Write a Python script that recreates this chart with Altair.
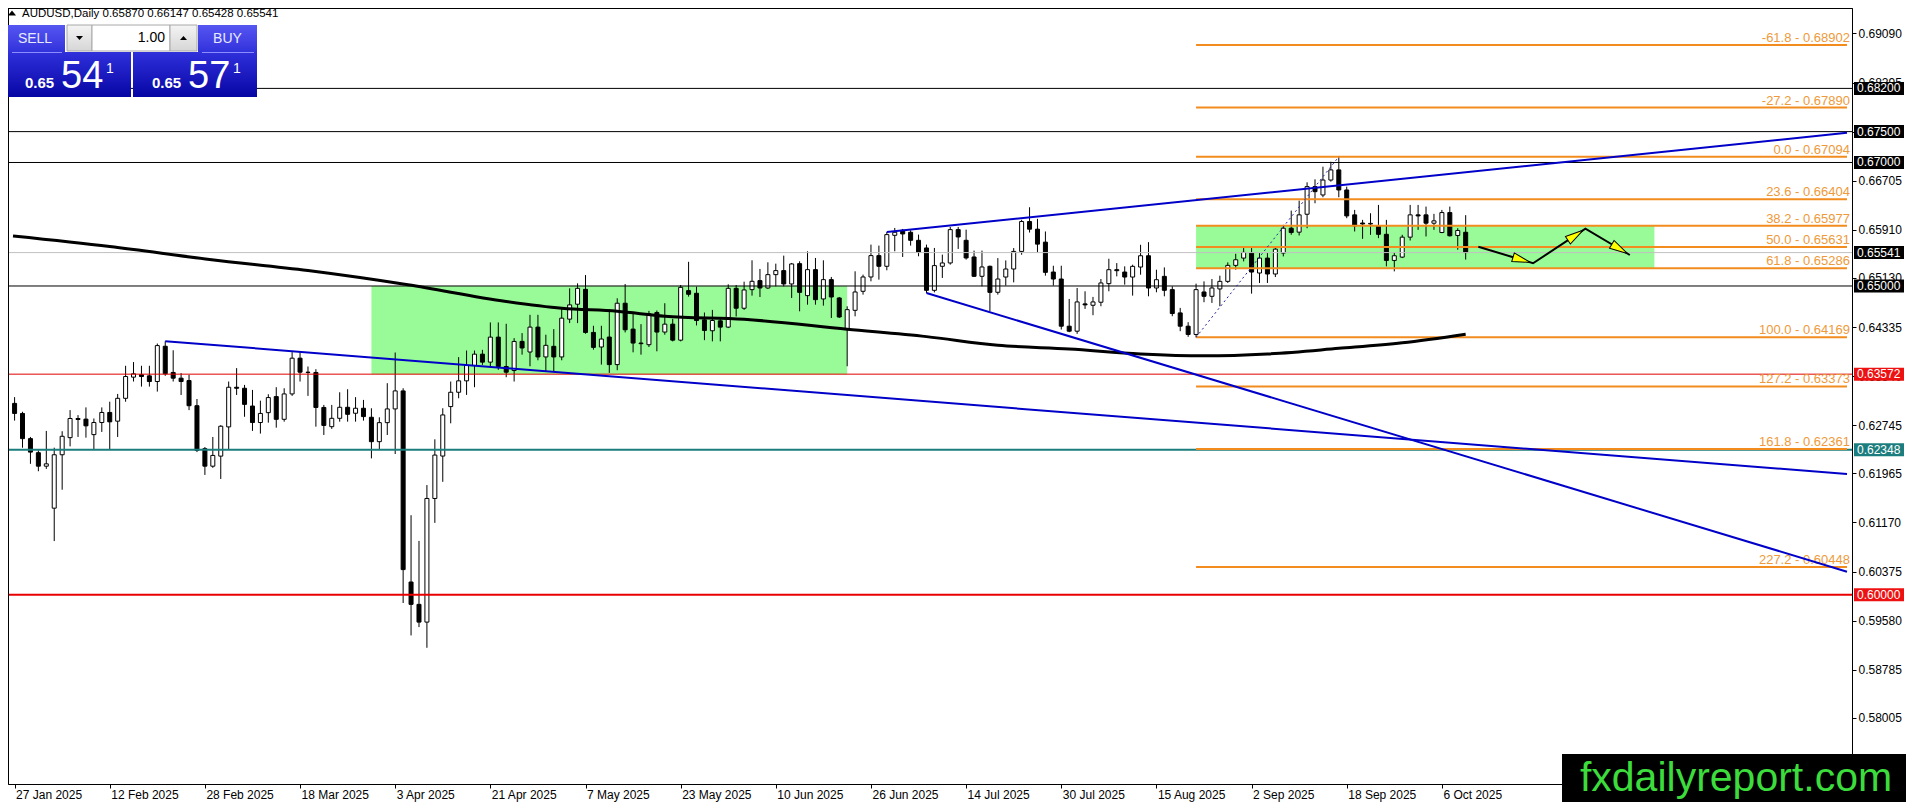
import math
import altair as alt
import pandas as pd

# ------------------------------------------------------------------ data
symbol = "AUDUSD"
timeframe = "Daily"

opens = [
    0.63099, 0.62936, 0.62528, 0.62300, 0.62082, 0.61402, 0.62267, 0.62544, 0.62854, 0.62844,
    0.62593, 0.62789, 0.62952, 0.62811, 0.63181, 0.63524, 0.63562, 0.63545, 0.63453, 0.64024,
    0.63600, 0.63507, 0.63469, 0.63061, 0.62365, 0.62082, 0.62245, 0.62718, 0.63360, 0.63344,
    0.63056, 0.62789, 0.62949, 0.63209, 0.62841, 0.63252, 0.63831, 0.63604, 0.63600, 0.63033,
    0.62722, 0.62857, 0.63036, 0.62939, 0.63020, 0.62874, 0.62479, 0.62787, 0.63009, 0.63301,
    0.60206, 0.59844, 0.59557, 0.61559, 0.62246, 0.63047, 0.63279, 0.63464, 0.63713, 0.63896,
    0.63767, 0.64172, 0.63696, 0.63631, 0.64103, 0.63931, 0.64334, 0.63851, 0.64023, 0.63851,
    0.64463, 0.64705, 0.64946, 0.64248, 0.64012, 0.64173, 0.63727, 0.64721, 0.64302, 0.64076,
    0.64049, 0.64570, 0.64254, 0.64382, 0.64123, 0.64925, 0.64882, 0.64452, 0.64275, 0.64436,
    0.64334, 0.64962, 0.64640, 0.64941, 0.65087, 0.64968, 0.65184, 0.65249, 0.65033, 0.65362,
    0.64844, 0.65265, 0.64790, 0.65103, 0.64806, 0.64304, 0.64606, 0.64914, 0.65146, 0.65492,
    0.65319, 0.65821, 0.65902, 0.65870, 0.65740, 0.65616, 0.64930, 0.65319, 0.65373, 0.65913,
    0.65740, 0.65470, 0.65157, 0.65319, 0.64898, 0.65145, 0.65275, 0.65560, 0.66044, 0.65920,
    0.65710, 0.65226, 0.65113, 0.64349, 0.64268, 0.64710, 0.64688, 0.64737, 0.65038, 0.65264,
    0.65226, 0.65145, 0.65307, 0.65490, 0.64968, 0.65156, 0.64941, 0.64564, 0.64349, 0.64215,
    0.64903, 0.64833, 0.64952, 0.65075, 0.65334, 0.65452, 0.65533, 0.65210, 0.65452, 0.65194,
    0.65533, 0.65936, 0.65872, 0.66162, 0.66609, 0.66474, 0.66716, 0.66880, 0.66555, 0.66152,
    0.66020, 0.66004, 0.65974, 0.65837, 0.65414, 0.65468, 0.65791, 0.66152, 0.66152, 0.66017,
    0.65866, 0.66189, 0.65818, 0.65870,
]
highs = [
    0.63200, 0.62963, 0.62555, 0.62338, 0.62653, 0.62381, 0.62648, 0.62990, 0.62909, 0.63034,
    0.62854, 0.63034, 0.63126, 0.63252, 0.63708, 0.63768, 0.63708, 0.63708, 0.64068, 0.64106,
    0.63959, 0.63589, 0.63562, 0.63170, 0.62392, 0.62555, 0.62746, 0.63453, 0.63670, 0.63398,
    0.63317, 0.63143, 0.63247, 0.63361, 0.63344, 0.63929, 0.63929, 0.63696, 0.63653, 0.63074,
    0.63074, 0.63279, 0.63328, 0.63200, 0.63155, 0.63020, 0.62874, 0.63426, 0.63923, 0.63344,
    0.61288, 0.60872, 0.61776, 0.62517, 0.63020, 0.63453, 0.63848, 0.63955, 0.63955, 0.63966,
    0.64410, 0.64410, 0.64388, 0.64156, 0.64237, 0.64533, 0.64533, 0.64211, 0.64302, 0.64640,
    0.64962, 0.65043, 0.65177, 0.64356, 0.64356, 0.64625, 0.64801, 0.65032, 0.64570, 0.64382,
    0.64597, 0.64603, 0.64721, 0.64468, 0.65016, 0.65392, 0.64989, 0.64570, 0.64613, 0.64490,
    0.65027, 0.65016, 0.65070, 0.65416, 0.65276, 0.65384, 0.65362, 0.65492, 0.65373, 0.65400,
    0.65562, 0.65454, 0.65416, 0.65146, 0.64822, 0.64671, 0.65238, 0.65184, 0.65670, 0.65654,
    0.65875, 0.65940, 0.65924, 0.65902, 0.65832, 0.65670, 0.65616, 0.65508, 0.65956, 0.65956,
    0.65913, 0.65573, 0.65573, 0.65330, 0.65452, 0.65414, 0.65614, 0.66071, 0.66275, 0.66087,
    0.65883, 0.65328, 0.65328, 0.64790, 0.64968, 0.64914, 0.64823, 0.65113, 0.65441, 0.65371,
    0.65318, 0.65345, 0.65667, 0.65710, 0.65264, 0.65301, 0.64995, 0.64645, 0.64414, 0.65038,
    0.65075, 0.65113, 0.65167, 0.65382, 0.65522, 0.65614, 0.65614, 0.65533, 0.65533, 0.65614,
    0.65990, 0.66221, 0.66383, 0.66679, 0.66727, 0.66932, 0.67012, 0.67094, 0.66609, 0.66232,
    0.66071, 0.66178, 0.66313, 0.66071, 0.65544, 0.65829, 0.66313, 0.66313, 0.66286, 0.66168,
    0.66232, 0.66286, 0.65936, 0.66147,
]
lows = [
    0.62820, 0.62381, 0.62120, 0.62000, 0.62038, 0.60869, 0.61701, 0.62403, 0.62555, 0.62544,
    0.62354, 0.62637, 0.62354, 0.62555, 0.63126, 0.63453, 0.63371, 0.63371, 0.63290, 0.63545,
    0.63453, 0.63235, 0.62990, 0.62310, 0.61940, 0.62055, 0.61875, 0.62348, 0.63235, 0.62882,
    0.62653, 0.62610, 0.62787, 0.62706, 0.62803, 0.63220, 0.63453, 0.63220, 0.62722, 0.62587,
    0.62686, 0.62803, 0.62803, 0.62803, 0.62820, 0.62208, 0.62344, 0.62587, 0.62279, 0.59866,
    0.59341, 0.59476, 0.59141, 0.61164, 0.61829, 0.62776, 0.63182, 0.63236, 0.63361, 0.63723,
    0.63696, 0.63642, 0.63523, 0.63453, 0.63888, 0.63700, 0.63797, 0.63620, 0.63620, 0.63797,
    0.64399, 0.64399, 0.64227, 0.63969, 0.63727, 0.63593, 0.63636, 0.64248, 0.63926, 0.63888,
    0.64012, 0.63942, 0.64211, 0.64103, 0.64103, 0.64828, 0.64361, 0.64123, 0.64103, 0.64103,
    0.64318, 0.64506, 0.64613, 0.64844, 0.64822, 0.64952, 0.64995, 0.64995, 0.64806, 0.64590,
    0.64698, 0.64698, 0.64682, 0.64482, 0.64482, 0.63700, 0.64509, 0.64860, 0.65076, 0.65103,
    0.65254, 0.65562, 0.65470, 0.65654, 0.65481, 0.64887, 0.64897, 0.65130, 0.65346, 0.65600,
    0.65427, 0.65146, 0.64995, 0.64590, 0.64860, 0.65006, 0.65059, 0.65506, 0.65866, 0.65544,
    0.65167, 0.65006, 0.64295, 0.64252, 0.64225, 0.64629, 0.64527, 0.64672, 0.64914, 0.65156,
    0.65022, 0.64844, 0.65183, 0.64833, 0.64898, 0.64833, 0.64511, 0.64268, 0.64177, 0.64169,
    0.64737, 0.64726, 0.64672, 0.65049, 0.65264, 0.65398, 0.64876, 0.65049, 0.65049, 0.65145,
    0.65479, 0.65829, 0.65818, 0.65936, 0.66340, 0.66437, 0.66690, 0.66437, 0.66098, 0.65883,
    0.65764, 0.65829, 0.65775, 0.65318, 0.65237, 0.65452, 0.65737, 0.65909, 0.65802, 0.65909,
    0.65856, 0.65802, 0.65587, 0.65428,
]
closes = [
    0.62936, 0.62528, 0.62310, 0.62082, 0.62120, 0.62267, 0.62566, 0.62854, 0.62838, 0.62735,
    0.62789, 0.62952, 0.62800, 0.63181, 0.63534, 0.63578, 0.63534, 0.63453, 0.64035, 0.63578,
    0.63507, 0.63453, 0.63061, 0.62338, 0.62082, 0.62256, 0.62729, 0.63360, 0.63344, 0.63083,
    0.62789, 0.62936, 0.63193, 0.62841, 0.63252, 0.63831, 0.63604, 0.63600, 0.63033, 0.62742,
    0.62857, 0.63036, 0.62922, 0.63020, 0.62885, 0.62479, 0.62787, 0.63009, 0.63301, 0.60407,
    0.59844, 0.59557, 0.61559, 0.62262, 0.62912, 0.63279, 0.63464, 0.63713, 0.63896, 0.63767,
    0.64172, 0.63696, 0.63604, 0.64102, 0.63996, 0.64334, 0.63851, 0.64039, 0.63851, 0.64479,
    0.64694, 0.64962, 0.64248, 0.64006, 0.64141, 0.63727, 0.64721, 0.64291, 0.64076, 0.64066,
    0.64549, 0.64254, 0.64382, 0.64123, 0.64978, 0.64866, 0.64441, 0.64280, 0.64441, 0.64334,
    0.64962, 0.64640, 0.64936, 0.65076, 0.64968, 0.65184, 0.65249, 0.65033, 0.65357, 0.64897,
    0.65265, 0.64779, 0.65103, 0.64822, 0.64498, 0.64617, 0.64903, 0.65146, 0.65492, 0.65319,
    0.65832, 0.65870, 0.65843, 0.65740, 0.65546, 0.64930, 0.65330, 0.65373, 0.65913, 0.65794,
    0.65454, 0.65157, 0.65308, 0.64897, 0.65113, 0.65275, 0.65560, 0.66044, 0.65920, 0.65678,
    0.65221, 0.65113, 0.64349, 0.64268, 0.64742, 0.64694, 0.64742, 0.65049, 0.65264, 0.65248,
    0.65145, 0.65318, 0.65490, 0.64968, 0.65102, 0.64930, 0.64554, 0.64349, 0.64215, 0.64941,
    0.64833, 0.64968, 0.65075, 0.65334, 0.65425, 0.65544, 0.65226, 0.65452, 0.65194, 0.65597,
    0.65936, 0.65866, 0.66152, 0.66609, 0.66528, 0.66716, 0.66880, 0.66555, 0.66135, 0.65974,
    0.66004, 0.66014, 0.65837, 0.65414, 0.65490, 0.65791, 0.66152, 0.66135, 0.66017, 0.66055,
    0.66189, 0.65813, 0.65899, 0.65541,
]

date_tick_bars = [0, 12, 24, 36, 48, 60, 72, 84, 96, 108, 120, 132, 144, 156, 168, 180]
date_labels = ["27 Jan 2025", "12 Feb 2025", "28 Feb 2025", "18 Mar 2025", "3 Apr 2025",
               "21 Apr 2025", "7 May 2025", "23 May 2025", "10 Jun 2025", "26 Jun 2025",
               "14 Jul 2025", "30 Jul 2025", "15 Aug 2025", "2 Sep 2025", "18 Sep 2025",
               "6 Oct 2025"]
price_ticks = [0.69090, 0.68295, 0.67500, 0.66705, 0.65910, 0.65130, 0.64335, 0.63540,
               0.62745, 0.61965, 0.61170, 0.60375, 0.59580, 0.58785, 0.58005]

# 200-day moving average
ma_bars = [-0.2, 12, 24.6, 37, 49.6, 62, 69, 76, 82, 92, 105, 115, 124, 133, 142, 150, 158, 167, 175, 183]
ma_values = [0.6581, 0.6564, 0.6543, 0.6525, 0.6502, 0.6475, 0.6464, 0.6459, 0.6451, 0.6446,
             0.6430, 0.6418, 0.6404, 0.6398, 0.6390, 0.6387, 0.6390, 0.6399, 0.6408, 0.6422]

# horizontal levels
level_prices = [0.68200, 0.67500, 0.67000, 0.65000, 0.63572, 0.62348, 0.60000]
level_colors = ["#000000", "#000000", "#000000", "#000000", "#e00000", "#1b7d7d", "#e80000"]
level_widths = [1, 1, 1, 1, 1, 2, 2]
bid = 0.65541
ask = 0.65571
lot = 1.00

# Fibonacci
fib_ratios = [-61.8, -27.2, 0.0, 23.6, 38.2, 50.0, 61.8, 100.0, 127.2, 161.8, 227.2]
fib_prices = [0.68902, 0.67890, 0.67094, 0.66404, 0.65977, 0.65631, 0.65286, 0.64169,
              0.63373, 0.62361, 0.60448]
fib_start_bar = 149
fib_base_bars = [149, 167]
fib_base_prices = [0.64169, 0.67094]

# green zones
zone_start = [45, 149]
zone_end = [105, 206.8]
zone_low = [0.63572, 0.65286]
zone_high = [0.65000, 0.65977]

# trend lines (start point, point at right edge)
trend_start_bar = [19, 115, 110]
trend_start_price = [0.64106, 0.64887, 0.65875]
trend_end_bar = [231.09, 231.09, 231.09]
trend_end_price = [0.61955, 0.60373, 0.67480]

# projected path
path_bars = [184.6, 191.5, 198.1, 203.7]
path_prices = [0.65636, 0.65368, 0.65928, 0.65502]

brand = "fxdailyreport.com"

# ------------------------------------------------------------------ layout
W, H = 1844, 776
PAD_R, PAD_B = 54, 18
X_DOM = [-0.2, 231.09]
Y_DOM = [0.56935, 0.69502]
PX_BAR = W / (X_DOM[1] - X_DOM[0])
PX_PRICE = H / (Y_DOM[1] - Y_DOM[0])
FONT = "Liberation Sans"

xscale = alt.Scale(domain=X_DOM, nice=False, zero=False)
yscale = alt.Scale(domain=Y_DOM, nice=False, zero=False)
label_expr = "[" + ",".join("'%s'" % d for d in date_labels) + "][round(datum.value / 12)]"
xaxis = alt.Axis(values=date_tick_bars, labelExpr=label_expr, title=None, grid=False,
                 labelAlign="left", labelBaseline="top", labelPadding=1, labelOffset=1,
                 tickSize=4, tickColor="black", domainColor="black", labelFont=FONT,
                 labelFontSize=12, labelColor="black", labelFlush=False, labelOverlap=False)
yaxis = alt.Axis(orient="right", values=price_ticks, format=".5f", title=None, grid=False,
                 tickSize=4, labelPadding=2, labelFont=FONT, labelFontSize=12,
                 labelColor="black", labelFlush=False, labelOverlap=False,
                 domainColor="black", tickColor="black")


def X(f):
    return alt.X(f"{f}:Q", scale=xscale, axis=xaxis)


def Y(f):
    return alt.Y(f"{f}:Q", scale=yscale, axis=yaxis)


one = pd.DataFrame({"k": [0]})
layers = []

# zones
zdf = pd.DataFrame({"x1": zone_start, "x2": zone_end, "lo": zone_low, "hi": zone_high})
layers.append(alt.Chart(zdf).mark_rect(color="#98fb98", clip=True).encode(
    x=X("x1"), x2="x2:Q", y=Y("lo"), y2="hi:Q"))

# candles
cdf = pd.DataFrame({"bar": list(range(len(opens))), "o": opens, "h": highs, "l": lows, "c": closes})
cdf["fill"] = ["white" if c >= o else "black" for o, c in zip(opens, closes)]
layers.append(alt.Chart(cdf).mark_rule(color="black", strokeWidth=1, clip=True).encode(
    x=X("bar"), y=Y("l"), y2="h:Q"))
layers.append(alt.Chart(cdf).mark_bar(size=4, stroke="black", strokeWidth=1, clip=True).encode(
    x=X("bar"), y=Y("o"), y2="c:Q", fill=alt.Fill("fill:N", scale=None)))

# bid line
layers.append(alt.Chart(pd.DataFrame({"p": [bid]})).mark_rule(color="#c0c0c0", strokeWidth=1).encode(
    y=Y("p")))

# horizontal levels
ldf = pd.DataFrame({"p": level_prices, "col": level_colors, "w": level_widths})
layers.append(alt.Chart(ldf).mark_rule().encode(
    y=Y("p"), color=alt.Color("col:N", scale=None), strokeWidth=alt.StrokeWidth("w:Q", scale=None)))

# fibonacci lines + labels
fdf = pd.DataFrame({"x1": [fib_start_bar] * len(fib_prices), "x2": [X_DOM[1]] * len(fib_prices),
                    "p": fib_prices,
                    "label": [f"{r:.1f} - {p:.5f}" for r, p in zip(fib_ratios, fib_prices)]})
layers.append(alt.Chart(fdf).mark_rule(color="#f28c1e", strokeWidth=2, clip=True).encode(
    x=X("x1"), x2="x2:Q", y=Y("p")))
layers.append(alt.Chart(fdf).mark_text(align="right", baseline="alphabetic", dy=-3, font=FONT,
                                       fontSize=13, color="#ee9a3a").encode(
    x=alt.value(W - 2), y=Y("p"), text="label:N"))

# moving average
mdf = pd.DataFrame({"bar": ma_bars, "v": ma_values})
layers.append(alt.Chart(mdf).mark_line(color="black", strokeWidth=3, interpolate="monotone",
                                       clip=True).encode(x=X("bar"), y=Y("v"), order="bar:Q"))

# trend lines
trows = []
for i in range(len(trend_start_bar)):
    trows.append({"id": i, "bar": trend_start_bar[i], "p": trend_start_price[i]})
    trows.append({"id": i, "bar": trend_end_bar[i], "p": trend_end_price[i]})
layers.append(alt.Chart(pd.DataFrame(trows)).mark_line(color="#0000c8", strokeWidth=2, clip=True).encode(
    x=X("bar"), y=Y("p"), detail="id:N", order="bar:Q"))

# fib base dotted
layers.append(alt.Chart(pd.DataFrame({"bar": fib_base_bars, "p": fib_base_prices})).mark_line(
    color="#2020a0", strokeWidth=1, strokeDash=[2, 3], clip=True).encode(x=X("bar"), y=Y("p"), order="bar:Q"))

# projected path
pdf = pd.DataFrame({"i": list(range(len(path_bars))), "bar": path_bars, "p": path_prices})
layers.append(alt.Chart(pdf).mark_line(color="black", strokeWidth=2, clip=True).encode(
    x=X("bar"), y=Y("p"), order="i:Q"))
heads = []
for k in range(len(path_bars) - 1):
    x1, p1, x2, p2 = path_bars[k], path_prices[k], path_bars[k + 1], path_prices[k + 1]
    dx = (x2 - x1) * PX_BAR
    dy = -(p2 - p1) * PX_PRICE
    ln = math.hypot(dx, dy)
    t = 1 - 12.0 / ln
    ang = math.degrees(math.atan2(dx, -dy)) % 360
    heads.append({"bar": x1 + t * (x2 - x1), "p": p1 + t * (p2 - p1), "ang": ang})
layers.append(alt.Chart(pd.DataFrame(heads)).mark_point(
    shape="M0,-1L0.5,1L-0.5,1Z", size=324, filled=True, fill="#ffff00", stroke="black",
    strokeWidth=1, opacity=1).encode(x=X("bar"), y=Y("p"), angle=alt.Angle("ang:Q", scale=None)))

# frame (left/top)
layers.append(alt.Chart(one).mark_rule(color="black", strokeWidth=1).encode(
    x=alt.value(0.5), y=alt.value(0), y2=alt.value(H)))
layers.append(alt.Chart(one).mark_rule(color="black", strokeWidth=1).encode(
    y=alt.value(0.5), x=alt.value(0), x2=alt.value(W)))

# price label boxes on the axis
box_prices = [0.68200, 0.67500, 0.67000, bid, 0.65000, 0.63572, 0.62348, 0.60000]
box_colors = ["#000000", "#000000", "#000000", "#000000", "#000000", "#ee1111", "#1b7d7d", "#ee1111"]
bdf = pd.DataFrame({"p": box_prices, "col": box_colors, "t": [f"{p:.5f}" for p in box_prices]})
layers.append(alt.Chart(bdf).mark_point(shape="M-1,-0.26L1,-0.26L1,0.26L-1,0.26Z", size=2500,
                                        filled=True, opacity=1, strokeWidth=0).encode(
    x=alt.value(W + 27), y=Y("p"), color=alt.Color("col:N", scale=None)))
layers.append(alt.Chart(bdf).mark_text(align="left", baseline="middle", font=FONT, fontSize=12,
                                       color="white").encode(
    x=alt.value(W + 5), y=Y("p"), text="t:N"))


# ------------------------------------------------------------------ trade panel
def prect(x1, y1, x2, y2, fill, stroke=None):
    kw = {"fill": fill}
    if stroke:
        kw.update(stroke=stroke, strokeWidth=1)
    return alt.Chart(one).mark_rect(**kw).encode(
        x=alt.value(x1), x2=alt.value(x2), y=alt.value(y1), y2=alt.value(y2))


def ptext(x, y, text, size, color="white", weight="normal", align="left", baseline="alphabetic"):
    return alt.Chart(one).mark_text(font=FONT, fontSize=size, fontWeight=weight, color=color,
                                    align=align, baseline=baseline).encode(
        x=alt.value(x), y=alt.value(y), text=alt.value(text))


def psym(x, y, shape, size, color="black"):
    return alt.Chart(one).mark_point(shape=shape, size=size, filled=True, opacity=1,
                                     color=color, strokeWidth=0).encode(
        x=alt.value(x), y=alt.value(y))


btn_grad = alt.LinearGradient(gradient="linear", x1=0, x2=0, y1=0, y2=1,
                              stops=[alt.GradientStop(color="#5656f2", offset=0),
                                     alt.GradientStop(color="#3232dc", offset=1)])
px_grad = alt.LinearGradient(gradient="linear", x1=0, x2=0, y1=0, y2=1,
                             stops=[alt.GradientStop(color="#3030dc", offset=0),
                                    alt.GradientStop(color="#0606a4", offset=1)])
gray_grad = alt.LinearGradient(gradient="linear", x1=0, x2=0, y1=0, y2=1,
                               stops=[alt.GradientStop(color="#f4f4f4", offset=0),
                                      alt.GradientStop(color="#d6d6d6", offset=1)])

header = f"{symbol},{timeframe}  {opens[-1]:.5f} {highs[-1]:.5f} {lows[-1]:.5f} {closes[-1]:.5f}"
layers.append(psym(4, 5, "M0,-0.6L1,0.6L-1,0.6Z", 64))
layers.append(ptext(14, 6, header, 11.5, color="black", baseline="middle"))

bid_s, ask_s = f"{bid:.5f}", f"{ask:.5f}"
layers += [
    prect(0, 17, 57, 44, btn_grad),
    prect(190, 17, 249, 44, btn_grad),
    prect(0, 44, 123, 89, px_grad),
    prect(125, 44, 249, 89, px_grad),
    prect(59, 17, 84, 43, gray_grad, "#a8a8a8"),
    prect(84, 17, 162, 43, "#ffffff", "#a8a8a8"),
    prect(162, 17, 189, 43, gray_grad, "#a8a8a8"),
    prect(4, 44, 54, 45, "#8c8cff"),
    prect(194, 44, 246, 45, "#8c8cff"),
    psym(71.5, 30, "M-1,-0.6L1,-0.6L0,0.6Z", 49),
    psym(175.5, 30, "M0,-0.6L1,0.6L-1,0.6Z", 49),
    ptext(27, 31, "SELL", 14, color="#e6ebff", align="center", baseline="middle"),
    ptext(219.5, 31, "BUY", 14, color="#e6ebff", align="center", baseline="middle"),
    ptext(157, 30, f"{lot:.2f}", 14, color="black", align="right", baseline="middle"),
    ptext(17, 80, bid_s[:4], 15, weight="bold"),
    ptext(53, 80, bid_s[4:6], 38),
    ptext(98, 65, bid_s[6], 14),
    ptext(144, 80, ask_s[:4], 15, weight="bold"),
    ptext(180, 80, ask_s[4:6], 38),
    ptext(225, 65, ask_s[6], 14),
]

# brand box
layers.append(prect(1554, 746, W + PAD_R, H + PAD_B, "#000000"))
layers.append(ptext(1728, 783, brand, 41, color="#3cdc3c", align="center"))

chart = alt.layer(*layers).properties(
    width=W, height=H,
    padding={"left": 0, "top": 0, "right": PAD_R, "bottom": PAD_B},
    autosize=alt.AutoSizeParams(type="none"),
    background="white",
).configure_view(stroke="black", strokeWidth=1)

chart.save("out.html", embed_options={"renderer": "svg", "actions": False})
